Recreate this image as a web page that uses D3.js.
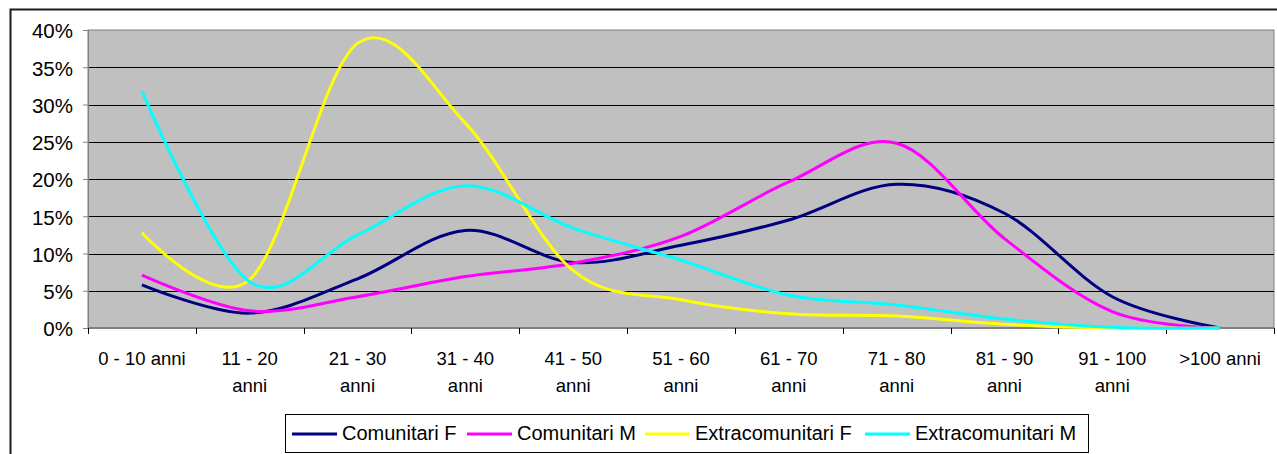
<!DOCTYPE html>
<html>
<head>
<meta charset="utf-8">
<script src="https://cdn.jsdelivr.net/npm/d3@7"></script>
<style>
  body { margin: 0; background: #fff; }
  svg { display: block; font-family: Arial, "Liberation Sans", sans-serif; }
</style>
</head>
<body>
<div id="chart"></div>
<script>
// age classes (x categories)
const categories = ['0 - 10 anni', '11 - 20 anni', '21 - 30 anni', '31 - 40 anni', '41 - 50 anni',
    '51 - 60 anni', '61 - 70 anni', '71 - 80 anni', '81 - 90 anni', '91 - 100 anni', '>100 anni'];

// percentages
const comunitariF = [5.8, 2.0, 6.6, 13.1, 8.8, 11.1, 14.5, 19.3, 15.4, 4.2, 0];
const comunitariM = [7.1, 2.3, 4.2, 6.9, 8.7, 12.3, 19.6, 24.8, 12.0, 2.2, 0];
const extraF = [12.8, 6.5, 38.2, 27.5, 7.7, 3.8, 1.9, 1.6, 0.5, 0, 0];
const extraM = [31.8, 6.2, 12.5, 19.1, 13.4, 9.1, 4.4, 3.1, 1.2, 0.1, 0];

const seriesNames = ['Comunitari F', 'Comunitari M', 'Extracomunitari F', 'Extracomunitari M'];
const seriesColors = ['#000080', '#FF00FF', '#FFFF00', '#00FFFF'];
const yTicks = [0, 5, 10, 15, 20, 25, 30, 35, 40];

const series = [comunitariF, comunitariM, extraF, extraM].map((values, i) => ({
    name: seriesNames[i],
    color: seriesColors[i],
    values: values
}));

const width = 1277, height = 454;
const plot = { left: 88, top: 30, right: 1274, bottom: 328 };

const svg = d3.select('#chart')
    .append('svg')
    .attr('width', width)
    .attr('height', height);

// outer chart frame (continues past the window edges)
svg.append('rect')
    .attr('x', 10.5).attr('y', 9.5)
    .attr('width', 1300).attr('height', 500)
    .attr('fill', 'none')
    .attr('stroke', '#1a1a1a')
    .attr('stroke-width', 2);

const x = d3.scaleBand()
    .domain(categories)
    .range([plot.left, plot.right]);

const y = d3.scaleLinear()
    .domain([0, 40])
    .range([plot.bottom, plot.top]);

// plot background
svg.append('rect')
    .attr('x', plot.left).attr('y', plot.top)
    .attr('width', plot.right - plot.left)
    .attr('height', plot.bottom - plot.top)
    .attr('fill', '#C0C0C0')
    .attr('stroke', '#808080')
    .attr('stroke-width', 1);

// gridlines
svg.append('g')
    .selectAll('line')
    .data(yTicks.filter(d => d > 0 && d < 40))
    .enter()
    .append('line')
    .attr('x1', plot.left).attr('x2', plot.right)
    .attr('y1', d => Math.round(y(d)) + 0.5)
    .attr('y2', d => Math.round(y(d)) + 0.5)
    .attr('stroke', '#000')
    .attr('stroke-width', 1);

// y axis
const yAxis = svg.append('g')
    .attr('transform', `translate(${plot.left},0)`)
    .call(d3.axisLeft(y).tickValues(yTicks).tickSize(5).tickPadding(10).tickFormat(d => d + '%'));
yAxis.select('.domain').attr('stroke', '#808080');
yAxis.selectAll('.tick line').attr('stroke', '#808080');
yAxis.selectAll('.tick text')
    .attr('fill', '#000')
    .style('font-size', '20.5px')
    .style('font-family', 'Arial, "Liberation Sans", sans-serif')
    .attr('dy', '0.38em');

// x axis: ticks at category boundaries
const boundaries = categories.map(c => x(c)).concat([plot.right]);
svg.append('line')
    .attr('x1', plot.left).attr('x2', plot.right)
    .attr('y1', plot.bottom).attr('y2', plot.bottom)
    .attr('stroke', '#808080')
    .attr('stroke-width', 2);
svg.append('g')
    .selectAll('line')
    .data(boundaries)
    .enter()
    .append('line')
    .attr('x1', d => Math.round(d) + 0.5).attr('x2', d => Math.round(d) + 0.5)
    .attr('y1', plot.bottom).attr('y2', plot.bottom + 6)
    .attr('stroke', '#000')
    .attr('stroke-width', 1);

// category labels, wrapped like Excel does
const labels = svg.append('g')
    .selectAll('text')
    .data(categories)
    .enter()
    .append('text')
    .attr('x', d => x(d) + x.bandwidth() / 2)
    .attr('y', 365)
    .attr('text-anchor', 'middle')
    .style('font-size', '18.5px')
    .attr('fill', '#000');

labels.each(function (d) {
    const t = d3.select(this);
    t.text(d);
    if (this.getComputedTextLength() > 93) {
        const cut = d.lastIndexOf(' ');
        t.text(null);
        t.append('tspan').attr('x', t.attr('x')).text(d.slice(0, cut));
        t.append('tspan').attr('x', t.attr('x')).attr('dy', 26.7).text(d.slice(cut + 1));
    }
});

// smoothed lines
const line = d3.line()
    .x((d, i) => x(categories[i]) + x.bandwidth() / 2)
    .y(d => y(d))
    .curve(d3.curveCardinal.tension(0));

svg.append('g')
    .selectAll('path')
    .data(series)
    .enter()
    .append('path')
    .attr('d', d => line(d.values))
    .attr('fill', 'none')
    .attr('stroke', d => d.color)
    .attr('stroke-width', 3)
    .attr('stroke-linejoin', 'round');

// legend
const legendX = [292, 467, 645, 865];
svg.append('rect')
    .attr('x', 285.5).attr('y', 414.5)
    .attr('width', 803).attr('height', 38)
    .attr('fill', '#fff')
    .attr('stroke', '#000')
    .attr('stroke-width', 1);

const legendItem = svg.append('g')
    .selectAll('g')
    .data(series)
    .enter()
    .append('g')
    .attr('transform', (d, i) => `translate(${legendX[i]},434)`);

legendItem.append('line')
    .attr('x1', 0).attr('x2', 45)
    .attr('stroke', d => d.color)
    .attr('stroke-width', 3);

legendItem.append('text')
    .attr('x', 50)
    .attr('y', 6)
    .style('font-size', '20px')
    .attr('fill', '#000')
    .text(d => d.name);
</script>
</body>
</html>
